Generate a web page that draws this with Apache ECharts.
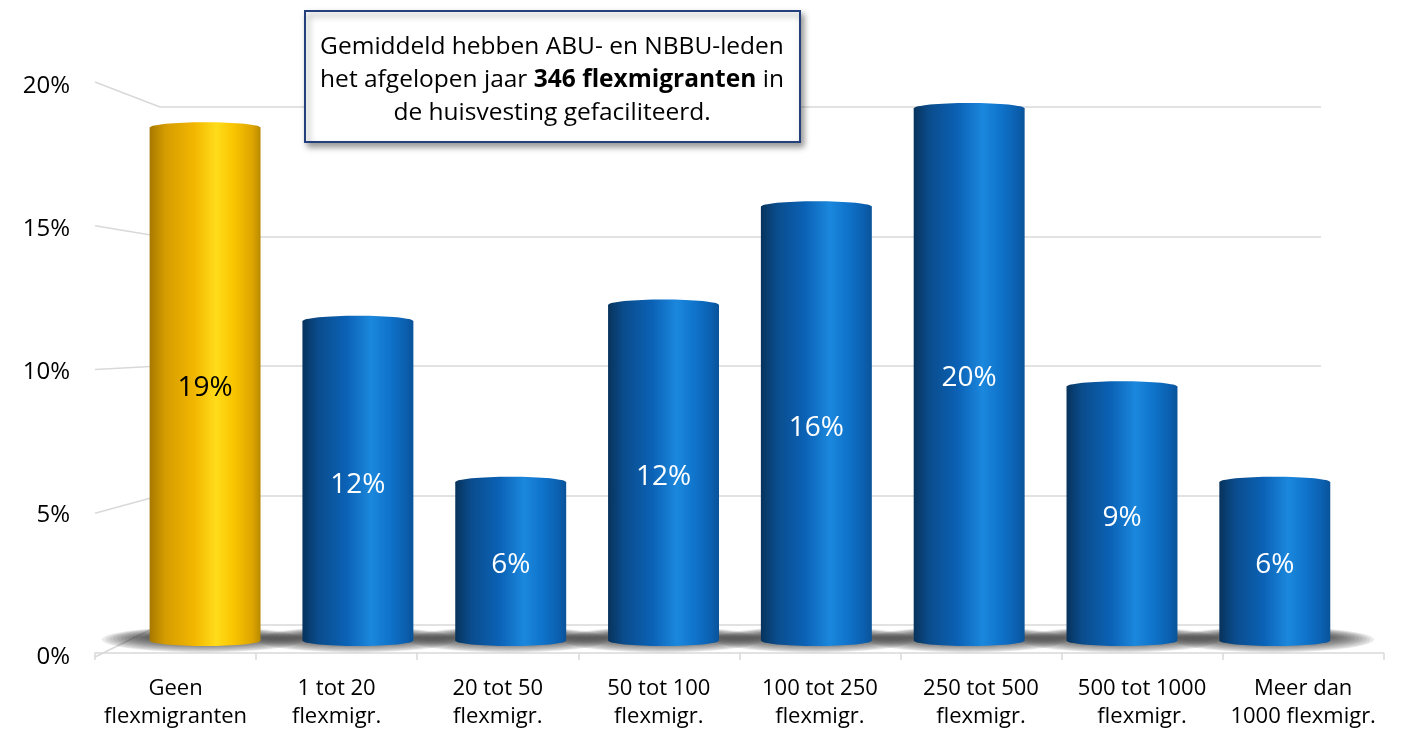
<!DOCTYPE html>
<html>
<head>
<meta charset="utf-8">
<script src="https://cdn.jsdelivr.net/npm/echarts@6/dist/echarts.min.js"></script>
<style>
  html, body { margin: 0; padding: 0; background: #fff; }
  #chart { width: 1401px; height: 731px; }
</style>
</head>
<body>
<div id="chart"></div>
<script>
// data
const categories = [
  'Geen\nflexmigranten',
  '1 tot 20\nflexmigr.',
  '20 tot 50\nflexmigr.',
  '50 tot 100\nflexmigr.',
  '100 tot 250\nflexmigr.',
  '250 tot 500\nflexmigr.',
  '500 tot 1000\nflexmigr.',
  'Meer dan\n1000 flexmigr.'
]
const shares = [18.8, 11.7, 5.8, 12.3, 15.9, 19.5, 9.3, 5.8]
const yTicks = [0, 5, 10, 15, 20]

const FONT = '"Open Sans", Lato, sans-serif'

// fake 3D: back wall, bar plane and front edge are the same box scaled around a vanishing point
const VP = [751, 334]
const BACK = { left: 160, right: 1321, top: 107, bottom: 625 }
const K_MID = 1.053
const K_FRONT = 1.11

function plane(k) {
  const l = VP[0] + k * (BACK.left - VP[0])
  const r = VP[0] + k * (BACK.right - VP[0])
  const t = VP[1] + k * (BACK.top - VP[1])
  const b = VP[1] + k * (BACK.bottom - VP[1])
  return { left: l, top: t, width: r - l, height: b - t }
}

const blueGrad = [
  [0, '#07335c'], [0.14, '#0a4c8c'], [0.4, '#0b62b6'], [0.62, '#1b88dd'],
  [0.78, '#0f74cb'], [0.93, '#0b5faf'], [1, '#0a5399']
]
const goldGrad = [
  [0, '#a77800'], [0.14, '#d49c00'], [0.4, '#f2b600'], [0.6, '#ffdc1a'],
  [0.76, '#f9c400'], [0.93, '#dda400'], [1, '#b88a00']
]

function grad(stops) {
  return new echarts.graphic.LinearGradient(0, 0, 1, 0,
    stops.map(s => ({ offset: s[0], color: s[1] })))
}

const chart = echarts.init(document.getElementById('chart'))

const option = {
  animation: false,
  backgroundColor: '#fff',
  grid: [
    { ...plane(1) },
    { ...plane(K_MID) },
    { ...plane(K_FRONT) }
  ],
  xAxis: [
    { gridIndex: 0, type: 'category', data: categories, show: false },
    { gridIndex: 1, type: 'category', data: categories, show: false },
    {
      gridIndex: 2, type: 'category', data: categories,
      axisLine: { lineStyle: { color: '#d9d9d9', width: 1.5 } },
      axisTick: { show: true, length: 7, lineStyle: { color: '#d9d9d9', width: 1.5 } },
      axisLabel: { color: '#000', fontSize: 22, lineHeight: 28, margin: 22, fontFamily: FONT, interval: 0 }
    }
  ],
  yAxis: [
    {
      gridIndex: 0, type: 'value', min: 0, max: 20, interval: 5,
      axisLine: { show: false }, axisTick: { show: false }, axisLabel: { show: false },
      splitLine: { lineStyle: { color: '#d9d9d9', width: 1.5 } }
    },
    {
      gridIndex: 1, type: 'value', min: 0, max: 20, interval: 5, show: false,
      splitLine: { show: false }
    },
    {
      gridIndex: 2, type: 'value', min: 0, max: 20, interval: 5,
      axisLine: { show: false }, axisTick: { show: false }, splitLine: { show: false },
      axisLabel: {
        margin: 25,
        formatter: v => '{t|' + v + '%}',
        rich: { t: { color: '#000', fontSize: 24, fontFamily: FONT, padding: [9, 0, 0, 0] } }
      }
    }
  ],
  series: [
    {
      // side wall lines from the front labels to the back wall
      type: 'custom', xAxisIndex: 0, yAxisIndex: 0, silent: true, z: 1,
      data: yTicks.map(v => [0, v]),
      renderItem: (params, api) => {
        const p = api.coord([0, api.value(1)])
        const bx = p[0] - api.size([1, 0])[0] / 2
        const by = p[1]
        const fx = VP[0] + K_FRONT * (bx - VP[0])
        const fy = VP[1] + K_FRONT * (by - VP[1])
        return {
          type: 'line',
          shape: { x1: fx, y1: fy, x2: bx, y2: by },
          style: { stroke: '#d9d9d9', lineWidth: 1.5 }
        }
      }
    },
    {
      // floor shadows
      type: 'custom', xAxisIndex: 1, yAxisIndex: 1, silent: true, z: 2,
      data: shares.map((v, i) => [i, v]),
      renderItem: (params, api) => {
        const base = api.coord([api.value(0), 0])
        const w = api.size([1, 0])[0] * 0.726
        const children = []
        for (let j = 11; j >= 0; j--) {
          children.push({
            type: 'ellipse',
            shape: { cx: base[0] - 2, cy: base[1] - 3 + j * 0.2, rx: w / 2 + 4 + j * 3.8, ry: 4 + j * 0.8 },
            style: { fill: 'rgba(45,45,45,0.1)' }
          })
        }
        return { type: 'group', children }
      }
    },
    {
      // cylinders
      type: 'custom', xAxisIndex: 1, yAxisIndex: 1, z: 3,
      data: shares.map((v, i) => [i, v]),
      renderItem: (params, api) => {
        const i = api.value(0)
        const v = api.value(1)
        const top = api.coord([i, v])
        const base = api.coord([i, 0])
        const w = api.size([1, 0])[0] * 0.726
        const ry = 5.5
        const gold = i === 0
        const stops = gold ? goldGrad : blueGrad
        const x0 = top[0] - w / 2
        return {
          type: 'group',
          children: [
            {
              type: 'rect',
              shape: { x: x0, y: top[1], width: w, height: base[1] - top[1] },
              style: { fill: grad(stops) }
            },
            {
              type: 'ellipse',
              shape: { cx: top[0], cy: base[1], rx: w / 2, ry: ry },
              style: { fill: grad(stops) }
            },
            {
              type: 'ellipse',
              shape: { cx: top[0], cy: top[1], rx: w / 2, ry: ry },
              style: { fill: grad(stops) }
            },
            {
              type: 'text',
              style: {
                text: Math.round(v) + '%',
                x: top[0], y: (top[1] + base[1]) / 2 + 4,
                align: 'center', verticalAlign: 'middle',
                fill: gold ? '#000' : '#fff',
                font: '28px ' + FONT
              }
            }
          ]
        }
      }
    }
  ],
  graphic: [
    {
      type: 'rect', z: 10,
      shape: { x: 305, y: 11, width: 495, height: 131 },
      style: {
        fill: '#fff', stroke: '#233f7c', lineWidth: 2,
        shadowBlur: 6, shadowOffsetX: 3, shadowOffsetY: 4, shadowColor: 'rgba(0,0,0,0.4)'
      }
    },
    {
      type: 'text', z: 11,
      style: {
        x: 552, y: 80,
        text: 'Gemiddeld hebben ABU- en NBBU-leden\nhet afgelopen jaar {b|346 flexmigranten} in\nde huisvesting gefaciliteerd.',
        align: 'center', verticalAlign: 'middle',
        fill: '#000', fontSize: 24.5, fontFamily: FONT, lineHeight: 33,
        rich: { b: { fontWeight: 'bold', fontSize: 24.5, fontFamily: FONT, lineHeight: 33 } }
      }
    }
  ]
}

chart.setOption(option)
</script>
</body>
</html>
